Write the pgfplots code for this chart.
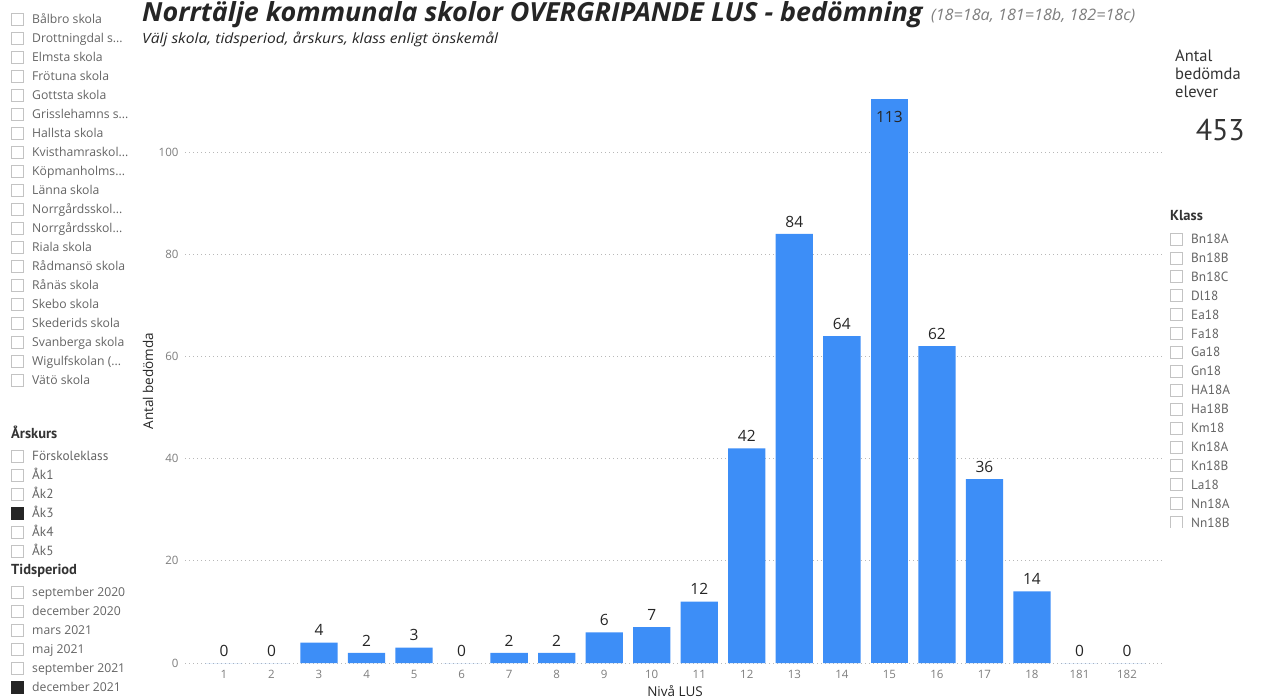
\documentclass[border=0pt]{standalone}
\usepackage{fontspec}
\setmainfont{Open Sans}
\newfontfamily\din{PT Sans}
\usepackage{pgfplots}
\pgfplotsset{compat=1.18}
\definecolor{barblue}{RGB}{61,142,247}
\definecolor{txtgray}{RGB}{100,100,100}
\definecolor{tickgray}{RGB}{125,125,125}
\definecolor{boxgray}{RGB}{195,195,195}
\definecolor{dark}{RGB}{37,37,37}
\definecolor{headdark}{RGB}{51,51,51}
\newcommand\dd{.\kern0pt.\kern0pt.}
\newcommand\itemfont{\fontsize{12.2}{13}\selectfont}
\newcommand\dinitem{\din\fontsize{13.3}{14}\selectfont}
\newcommand\dinhead{\din\bfseries\fontsize{14.5}{16}\selectfont}
% empty checkbox: x, ycenter, text, font
\newcommand\cbx[4]{%
  \draw[draw=boxgray, line width=0.8pt, fill=white] (#1,#2-6) rectangle (#1+12,#2+6);
  \node[anchor=base west, inner sep=0pt, text=txtgray, font=#4] at (#1+21,#2+4.5) {#3};}
% filled checkbox
\newcommand\cbf[4]{%
  \draw[draw=dark, line width=0.8pt, fill=dark] (#1,#2-6) rectangle (#1+12,#2+6);
  \node[anchor=base west, inner sep=0pt, text=txtgray, font=#4] at (#1+21,#2+4.5) {#3};}
\begin{document}
\begin{tikzpicture}
\useasboundingbox (0pt,0pt) rectangle (1267pt,-698pt);
\begin{scope}[x=1pt,y=-1pt]
% Title
\node[anchor=base west, inner sep=0pt, text=dark] at (142,22) {\resizebox{780pt}{20pt}{\bfseries\itshape Norrtälje kommunala skolor OVERGRIPANDE LUS - bedömning}};
\node[anchor=base west, inner sep=0pt, text=tickgray] at (931,21) {\resizebox{204pt}{12pt}{\itshape (18=18a, 181=18b, 182=18c)}};
\node[anchor=base west, inner sep=0pt, text=dark] at (142,44) {\resizebox{356pt}{11.5pt}{\itshape Välj skola, tidsperiod, årskurs, klass enligt önskemål}};
% School list
\foreach \t [count=\i from 0] in {Bålbro skola,Drottningdal s\dd,Elmsta skola,Frötuna skola,Gottsta skola,Grisslehamns s\dd,Hallsta skola,Kvisthamraskol\dd,Köpmanholms\dd,Länna skola,Norrgårdsskol\dd,Norrgårdsskol\dd,Riala skola,Rådmansö skola,Rånäs skola,Skebo skola,Skederids skola,Svanberga skola,Wigulfskolan (\dd,Vätö skola}
  {\cbx{11}{19+19*\i}{\t}{\itemfont}}
% Årskurs
\node[anchor=base west, inner sep=0pt, text=headdark, font=\dinhead] at (11,438) {Årskurs};
\cbx{11}{456}{Förskoleklass}{\dinitem}
\cbx{11}{475}{Åk1}{\dinitem}
\cbx{11}{494}{Åk2}{\dinitem}
\cbf{11}{513}{Åk3}{\dinitem}
\cbx{11}{532}{Åk4}{\dinitem}
\cbx{11}{551}{Åk5}{\dinitem}
% Tidsperiod
\node[anchor=base west, inner sep=0pt, text=headdark, font=\dinhead] at (11,574) {Tidsperiod};
\cbx{11}{592}{september 2020}{\itemfont}
\cbx{11}{611}{december 2020}{\itemfont}
\cbx{11}{630}{mars 2021}{\itemfont}
\cbx{11}{649}{maj 2021}{\itemfont}
\cbx{11}{668}{september 2021}{\itemfont}
\cbf{11}{687}{december 2021}{\itemfont}
% Card
\node[anchor=base west, inner sep=0pt, text=headdark, font=\din\fontsize{16.5}{18}\selectfont] at (1175,62) {Antal};
\node[anchor=base west, inner sep=0pt, text=headdark, font=\din\fontsize{16.5}{18}\selectfont] at (1175,80) {bedömda};
\node[anchor=base west, inner sep=0pt, text=headdark, font=\din\fontsize{16.5}{18}\selectfont] at (1175,98) {elever};
\node[anchor=base east, inner sep=0pt, text=headdark, font=\din\fontsize{30}{30}\selectfont] at (1245,141) {453};
% Klass
\node[anchor=base west, inner sep=0pt, text=headdark, font=\dinhead] at (1170,220) {Klass};
\begin{scope}
\clip (1160,228) rectangle (1267,527);
\foreach \t [count=\i from 0] in {Bn18A,Bn18B,Bn18C,Dl18,Ea18,Fa18,Ga18,Gn18,HA18A,Ha18B,Km18,Kn18A,Kn18B,La18,Nn18A,Nn18B}
  {\cbx{1170}{239+18.9*\i}{\t}{\dinitem}}
\end{scope}
% axis titles
\node[text=dark, font=\fontsize{13.5}{14}\selectfont, inner sep=0pt] at (675,691) {Nivå LUS};
\node[text=dark, font=\fontsize{13.5}{14}\selectfont, inner sep=0pt, rotate=90] at (148,381) {Antal bedömda};
\end{scope}
\begin{axis}[
  at={(185pt,-663pt)}, anchor=south west,
  scale only axis, width=978pt, height=563pt,
  xmin=0.18, xmax=20.757, ymin=0, ymax=110.2,
  axis line style={draw=none},
  major tick length=0pt,
  xtick={1,...,20},
  xticklabels={1,2,3,4,5,6,7,8,9,10,11,12,13,14,15,16,17,18,181,182},
  ytick={0,20,...,100},
  ymajorgrids,
  grid style={tickgray!55, line width=0.8pt, dash pattern=on 1pt off 3pt},
  tick label style={font=\fontsize{11.5}{12}\selectfont, text=tickgray},
  /pgf/number format/assume math mode=true,
  yticklabel style={xshift=-3pt},
  xticklabel style={yshift=-4pt},
  every node near coord/.append style={font=\fontsize{15.5}{16}\selectfont, text=dark, inner sep=1pt},
]
\addplot[ybar, bar width=0.785, fill=barblue, draw=none, nodes near coords,
  every node near coord/.append style={yshift=5.5pt}]
  coordinates {(1,0)(2,0)(3,4)(4,2)(5,3)(6,0)(7,2)(8,2)(9,6)(10,7)(11,12)(12,42)(13,84)(14,64)(16,62)(17,36)(18,14)(19,0)(20,0)};
\addplot[ybar, bar width=0.785, fill=barblue, draw=none]
  coordinates {(15,113)};
\addplot[draw=none, mark=none, nodes near coords={113},
  every node near coord/.append style={anchor=center}]
  coordinates {(15,106.8)};
\end{axis}
\end{tikzpicture}
\end{document}
